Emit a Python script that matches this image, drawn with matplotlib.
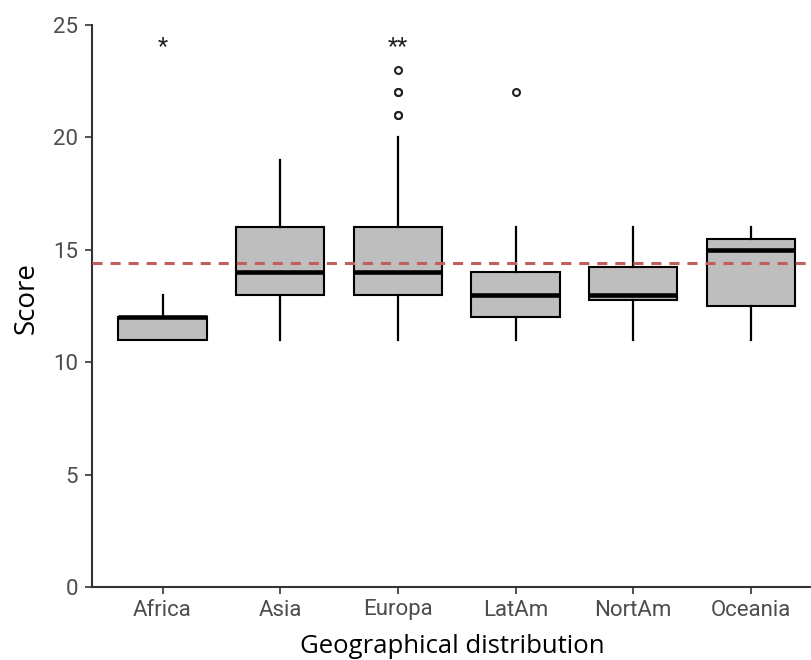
#!/usr/bin/env python3

import matplotlib
matplotlib.use("Agg")
import matplotlib.pyplot as plt

# summary stats
regions = ["Africa", "Asia", "Europa", "LatAm", "NortAm", "Oceania"]
q1 = [11, 13, 13, 12, 12.75, 12.5]
medians = [12, 14, 14, 13, 13, 15]
q3 = [12, 16, 16, 14, 14.25, 15.5]
whisk_lo = [11, 11, 11, 11, 11, 11]
whisk_hi = [13, 19, 20, 16, 16, 16]
outliers = [[], [], [21, 21, 22, 22, 23], [22], [], []]
mean_score = 14.4
signif = {"Africa": "*", "Europa": "**"}

stats = []
for i, name in enumerate(regions):
    stats.append({
        "label": name,
        "q1": q1[i], "med": medians[i], "q3": q3[i],
        "whislo": whisk_lo[i], "whishi": whisk_hi[i],
        "fliers": outliers[i],
    })

tick_font = ["Roboto", "DejaVu Sans"]
title_font = ["Open Sans", "DejaVu Sans"]

fig = plt.figure(figsize=(8.12, 6.6), dpi=100)
ax = fig.add_axes([92 / 812, 1 - 587 / 660, 1 - 92 / 812, (587 - 25) / 660])

ax.bxp(
    stats,
    positions=range(1, len(regions) + 1),
    widths=0.75,
    patch_artist=True,
    showcaps=False,
    boxprops=dict(facecolor="#bebebe", edgecolor="black", linewidth=1.5),
    medianprops=dict(color="black", linewidth=3.3, solid_capstyle="butt"),
    whiskerprops=dict(color="black", linewidth=1.6),
    flierprops=dict(marker="o", markersize=5, markerfacecolor="white",
                    markeredgecolor="#222222", markeredgewidth=1.5),
)

ax.axhline(mean_score, color="#c0605e", linewidth=2.2, linestyle=(0, (3.3, 2.6)),
           zorder=5)

for name, mark in signif.items():
    ax.text(regions.index(name) + 1, 24.05, mark, ha="center", va="center",
            fontsize=17, color="#222222", family=tick_font)

ax.set_xlim(0.4, 6.52)
ax.set_ylim(0, 25)
ax.set_yticks([0, 5, 10, 15, 20, 25])
ax.set_xticks(range(1, len(regions) + 1))
ax.set_xticklabels(regions)

for side in ["top", "right"]:
    ax.spines[side].set_visible(False)
for side in ["left", "bottom"]:
    ax.spines[side].set_linewidth(1.5)
    ax.spines[side].set_color("#333333")

ax.tick_params(length=5, width=1.2, color="#333333", labelcolor="#4d4d4d",
               labelsize=16, pad=4)
ax.tick_params(axis="y", pad=5)
for lab in ax.get_xticklabels() + ax.get_yticklabels():
    lab.set_family(tick_font)

ax.set_xlabel("Geographical distribution", fontsize=18.5, family=title_font,
              labelpad=10)
ax.set_ylabel("Score", fontsize=20, family=title_font)
ax.yaxis.set_label_coords(-0.071, 0.514)

fig.savefig("out.png", dpi=100)
